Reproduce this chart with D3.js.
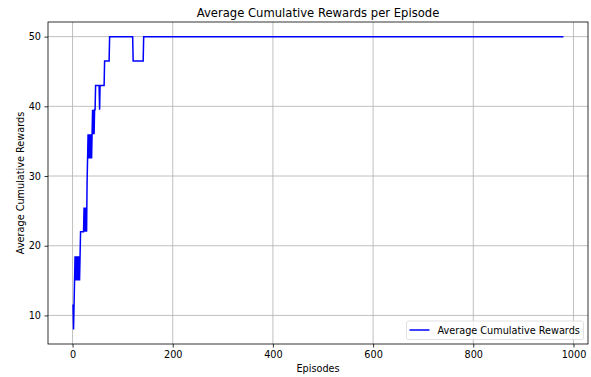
<!DOCTYPE html>
<html>
<head>
<meta charset="utf-8">
<script src="https://cdn.jsdelivr.net/npm/d3@7"></script>
<style>
  html, body { margin: 0; padding: 0; background: #fff; }
  text { font-family: "DejaVu Sans", sans-serif; fill: #000; }
</style>
</head>
<body>
<svg id="chart" width="591" height="377"></svg>
<script>
// Breakpoints of the reward curve (episode, average cumulative reward)
const episodes = [
  0, 1, 2, 3, 4, 5, 6, 7, 8, 9, 10, 11, 12, 13, 14, 15, 16,
  22, 23, 24, 25, 26, 27, 28, 29, 30, 31, 32, 33, 34, 35, 36, 37, 38, 39,
  40, 41, 42, 43, 44, 45, 46, 53, 54, 55, 63, 64, 73, 74,
  120, 121, 141, 142, 980
];
const rewards = [
  11.5, 11.5, 8, 11.5, 15, 18.5, 15, 18.5, 15, 18.5, 15, 18.5, 15, 18.5, 15, 18.5, 22,
  22, 25.5, 22, 25.5, 22, 25.5, 22, 29, 32.5, 36, 32.5, 36, 32.5, 36, 32.5, 36, 32.5, 36,
  39.5, 36, 39.5, 36, 39.5, 39.5, 43, 43, 39.5, 43, 43, 46.5, 46.5, 50,
  50, 46.5, 46.5, 50, 50
];
const xTicks = [0, 200, 400, 600, 800, 1000];
const yTicks = [10, 20, 30, 40, 50];
const seriesName = "Average Cumulative Rewards";

const svg = d3.select("#chart");
const W = 591, H = 377;
const m = { left: 48, right: 3, top: 22, bottom: 33 };

const pts = episodes.map((e, i) => ({ e, r: rewards[i] }));

// 5% padding around the data extent on both axes
const xExt = d3.extent(episodes), yExt = d3.extent(rewards);
const xPad = (xExt[1] - xExt[0]) * 0.05, yPad = (yExt[1] - yExt[0]) * 0.05;
const x = d3.scaleLinear().domain([xExt[0] - xPad, xExt[1] + xPad]).range([m.left, W - m.right]);
const y = d3.scaleLinear().domain([yExt[0] - yPad, yExt[1] + yPad]).range([H - m.bottom, m.top]);

// grid
const grid = svg.append("g").attr("stroke", "#b0b0b0").attr("stroke-width", 0.8);
xTicks.forEach(t => grid.append("line").attr("x1", x(t)).attr("x2", x(t)).attr("y1", m.top).attr("y2", H - m.bottom));
yTicks.forEach(t => grid.append("line").attr("y1", y(t)).attr("y2", y(t)).attr("x1", m.left).attr("x2", W - m.right));

// line
const line = d3.line().x(d => x(d.e)).y(d => y(d.r));
svg.append("path").datum(pts).attr("d", line)
  .attr("fill", "none").attr("stroke", "#0000ff").attr("stroke-width", 1.5).attr("stroke-linejoin", "miter");

// axes
const xAxis = svg.append("g").attr("transform", `translate(0,${H - m.bottom})`)
  .call(d3.axisBottom(x).tickValues(xTicks).tickSize(3.5).tickPadding(3.5).tickFormat(d3.format("d")));
const yAxis = svg.append("g").attr("transform", `translate(${m.left},0)`)
  .call(d3.axisLeft(y).tickValues(yTicks).tickSize(3.5).tickPadding(3.5).tickFormat(d3.format("d")));
[xAxis, yAxis].forEach(a => {
  a.select(".domain").remove();
  a.selectAll("text").attr("font-size", 9.7).attr("font-family", "DejaVu Sans").attr("fill", "#000");
  a.selectAll("line").attr("stroke", "#000").attr("stroke-width", 0.8);
});

// frame
svg.append("rect").attr("x", m.left).attr("y", m.top)
  .attr("width", W - m.left - m.right).attr("height", H - m.top - m.bottom)
  .attr("fill", "none").attr("stroke", "#000").attr("stroke-width", 0.8);

// title and labels
svg.append("text").attr("x", (m.left + W - m.right) / 2).attr("y", 16.5)
  .attr("text-anchor", "middle").attr("font-size", 11.6).text("Average Cumulative Rewards per Episode");
svg.append("text").attr("x", (m.left + W - m.right) / 2).attr("y", 372)
  .attr("text-anchor", "middle").attr("font-size", 9.7).text("Episodes");
svg.append("text").attr("transform", `translate(23.5,${(m.top + H - m.bottom) / 2}) rotate(-90)`)
  .attr("text-anchor", "middle").attr("font-size", 9.7).text("Average Cumulative Rewards");

// legend
const lg = svg.append("g").attr("transform", "translate(406.5,321)");
lg.append("rect").attr("width", 177).attr("height", 18.5).attr("rx", 2)
  .attr("fill", "#fff").attr("fill-opacity", 0.8).attr("stroke", "#d9d9d9").attr("stroke-width", 0.8);
lg.append("line").attr("x1", 3).attr("x2", 23).attr("y1", 9).attr("y2", 9)
  .attr("stroke", "#0000ff").attr("stroke-width", 1.5);
lg.append("text").attr("x", 31).attr("y", 12.5).attr("font-size", 9.7).text(seriesName);
</script>
</body>
</html>
